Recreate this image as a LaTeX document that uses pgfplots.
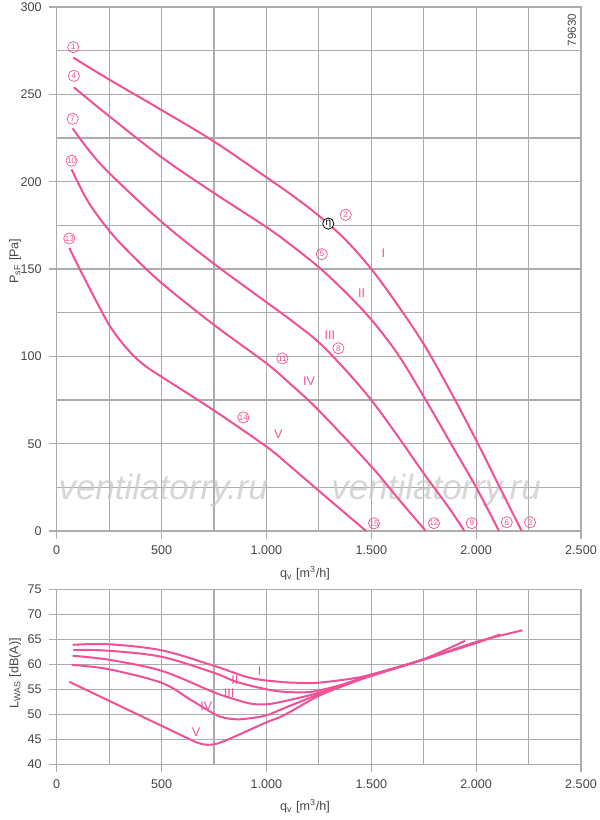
\documentclass[border=0pt]{standalone}
\usepackage{fontspec}
\setmainfont{Liberation Sans}
\usepackage{pgfplots}
\pgfplotsset{compat=1.18}
\definecolor{pk}{RGB}{240,80,150}
\definecolor{gr}{RGB}{172,172,172}
\definecolor{tx}{RGB}{70,70,70}
\definecolor{wm}{RGB}{200,200,200}
\tikzset{
  cn/.style={circle, draw=pk, line width=0.35pt, inner sep=0pt, minimum size=5.6pt, text=pk, font=\fontsize{4}{4}\selectfont},
  rn/.style={text=pk, font=\fontsize{6.3}{7}\selectfont, inner sep=0.5pt},
}
\begin{document}
\begin{tikzpicture}
\useasboundingbox (0,0) rectangle (300pt,410pt);
\pgfplotsset{
  myax/.style={
    scale only axis, width=262.15pt,
    xmin=0, xmax=2500,
    xtick={0,500,1000,1500,2000,2500},
    xticklabels={0,500,1.000,1.500,2.000,2.500},
    minor xtick={250,750,1250,1750,2250},
    grid=both,
    grid style={gr, line width=0.55pt},
    minor grid style={gr, line width=0.55pt},
    major grid style={gr, line width=0.55pt},
    axis line style={gr, line width=0.55pt},
    tick style={gr, line width=0.55pt},
    major tick length=4pt, minor tick length=0pt,
    tick align=outside,
    tick pos=left,
    ticklabel style={font=\fontsize{6.3}{7}\selectfont, text=tx},
    label style={font=\fontsize{6.3}{7}\selectfont, text=tx},
    xlabel style={at={(axis description cs:0.4736,0)}, anchor=center, yshift=-21pt},
    xlabel={q\textsubscript{v} [m\textsuperscript{3}/h]},
    clip=false,
  },
}
% ---------- top axis ----------
\begin{axis}[myax, at={(28.35pt,144.5pt)}, anchor=south west, height=262pt,
  ymin=0, ymax=300,
  ytick={0,50,100,150,200,250,300},
  yticklabels={0,50,100,150,200,250,300},
  minor ytick={25,75,125,175,225,275},
  ylabel={P\textsubscript{sF} [Pa]},
  ylabel style={at={(axis description cs:-0.0795,0.515)}, anchor=center},
]
\node[text=wm, font=\fontsize{17.5}{18}\selectfont\itshape, text opacity=0.75] at (axis cs:508,23.5) {ventilatorry.ru};
\node[text=wm, font=\fontsize{17.5}{18}\selectfont\itshape, text opacity=0.75] at (axis cs:1809,23.5) {ventilatorry.ru};
% I
\addplot[pk, line width=1pt, smooth, tension=0.55, no markers] coordinates {(79,271)(250,258.5)(500,241)(750,223)(1000,202.5)(1125,192)(1250,180.5)(1375,167)(1500,150)(1625,129.5)(1750,107)(1875,80.5)(2000,52)(2100,28)(2217,0)};
% II
\addplot[pk, line width=1pt, smooth, tension=0.55, no markers] coordinates {(82,254)(250,237.5)(500,214)(750,193.5)(1000,174)(1125,163)(1250,151)(1375,137)(1500,121)(1625,101.5)(1750,77)(1875,51)(2000,25)(2109,0)};
% III
\addplot[pk, line width=1pt, smooth, tension=0.55, no markers] coordinates {(76,230.5)(150,218.5)(250,205)(500,177)(750,153)(1000,131)(1125,120)(1250,108)(1375,92.5)(1500,75)(1625,54.5)(1750,33)(1875,12.5)(1944,0)};
% IV
\addplot[pk, line width=1pt, smooth, tension=0.55, no markers] coordinates {(71,207)(150,188.5)(250,172)(350,159)(500,142)(750,118)(1000,96)(1125,83)(1250,69)(1500,37)(1625,19)(1760,0)};
% V
\addplot[pk, line width=1pt, smooth, tension=0.55, no markers] coordinates {(60,162)(135,144)(200,129)(250,118)(300,109.5)(365,100.5)(430,93.8)(500,88.3)(750,69)(1000,48.3)(1100,38.5)(1208,27.3)(1475,0)};
\node[cn] at (axis cs:79,277) {1};
\node[cn] at (axis cs:82,260.6) {4};
\node[cn] at (axis cs:76,236) {7};
\node[cn] at (axis cs:71,212) {10};
\node[cn] at (axis cs:60,167.5) {13};
\node[cn] at (axis cs:1378,181) {2};
\node[cn] at (axis cs:1264,158.5) {5};
\node[cn] at (axis cs:1343,104.6) {8};
\node[cn] at (axis cs:1076,98.8) {11};
\node[cn] at (axis cs:890,65) {14};
\node[cn] at (axis cs:2257,5) {3};
\node[cn] at (axis cs:2146,5) {6};
\node[cn] at (axis cs:1979,4.5) {9};
\node[cn] at (axis cs:1799,4.5) {12};
\node[cn] at (axis cs:1513,4.4) {15};
\node[circle, draw=black, fill=white, line width=0.4pt, inner sep=0pt, minimum size=5.6pt, font=\fontsize{5}{5}\selectfont] at (axis cs:1295,176) {η};
\node[rn] at (axis cs:1558,159) {I};
\node[rn] at (axis cs:1454,136.4) {II};
\node[rn] at (axis cs:1303,112.2) {III};
\node[rn] at (axis cs:1203,86) {IV};
\node[rn] at (axis cs:1057,55.5) {V};
\node[text=tx, font=\fontsize{5.8}{6}\selectfont, rotate=90] at (axis cs:2456,286.8) {79630};
\end{axis}
% ---------- bottom axis ----------
\begin{axis}[myax, at={(28.35pt,27.85pt)}, anchor=south west, height=87.5pt,
  ymin=40, ymax=75,
  ytick={40,45,50,55,60,65,70,75},
  yticklabels={40,45,50,55,60,65,70,75},
  ylabel={L\textsubscript{WAS} [dB(A)]},
  ylabel style={at={(axis description cs:-0.0795,0.52)}, anchor=center},
]
\addplot[pk, line width=1pt, smooth, tension=0.55, no markers] coordinates {(76,63.9)(250,64.0)(500,62.8)(750,59.7)(921,57.3)(1063,56.5)(1150,56.3)(1242,56.3)(1401,57.1)(1503,58)(1753,61)(2003,64.5)(2221,66.8)};
\addplot[pk, line width=1pt, smooth, tension=0.55, no markers] coordinates {(79,62.9)(250,62.7)(500,61.5)(750,58.3)(857,56.5)(1000,55)(1083,54.5)(1180,54.4)(1242,54.7)(1350,55.8)(1503,57.9)(1753,61)(2003,64.3)(2115,66)};
\addplot[pk, line width=1pt, smooth, tension=0.55, no markers] coordinates {(76,61.7)(250,60.9)(500,58.7)(750,54.4)(857,52.9)(930,52.1)(1000,52.0)(1083,52.6)(1250,54.3)(1400,56.4)(1503,57.8)(1753,61.1)(1947,64.7)};
\addplot[pk, line width=1pt, smooth, tension=0.55, no markers] coordinates {(71,59.9)(250,59)(500,56.3)(635,53)(750,50.1)(800,49.3)(860,49.0)(921,49.2)(1000,49.8)(1083,51.2)(1250,54)(1400,56.3)(1503,57.7)(1760,61.1)};
\addplot[pk, line width=1pt, smooth, tension=0.55, no markers] coordinates {(60,56.5)(250,52.7)(500,47.7)(635,45.0)(680,44.2)(720,43.9)(770,44.2)(857,45.7)(1000,48.4)(1083,49.8)(1250,53.7)(1400,56.2)(1475,57.4)};
\node[rn] at (axis cs:968,58.7) {I};
\node[rn] at (axis cs:850,56.8) {II};
\node[rn] at (axis cs:822,54.3) {III};
\node[rn] at (axis cs:714,51.7) {IV};
\node[rn, fill=white] at (axis cs:664,46.5) {V};
\end{axis}
\end{tikzpicture}
\end{document}
